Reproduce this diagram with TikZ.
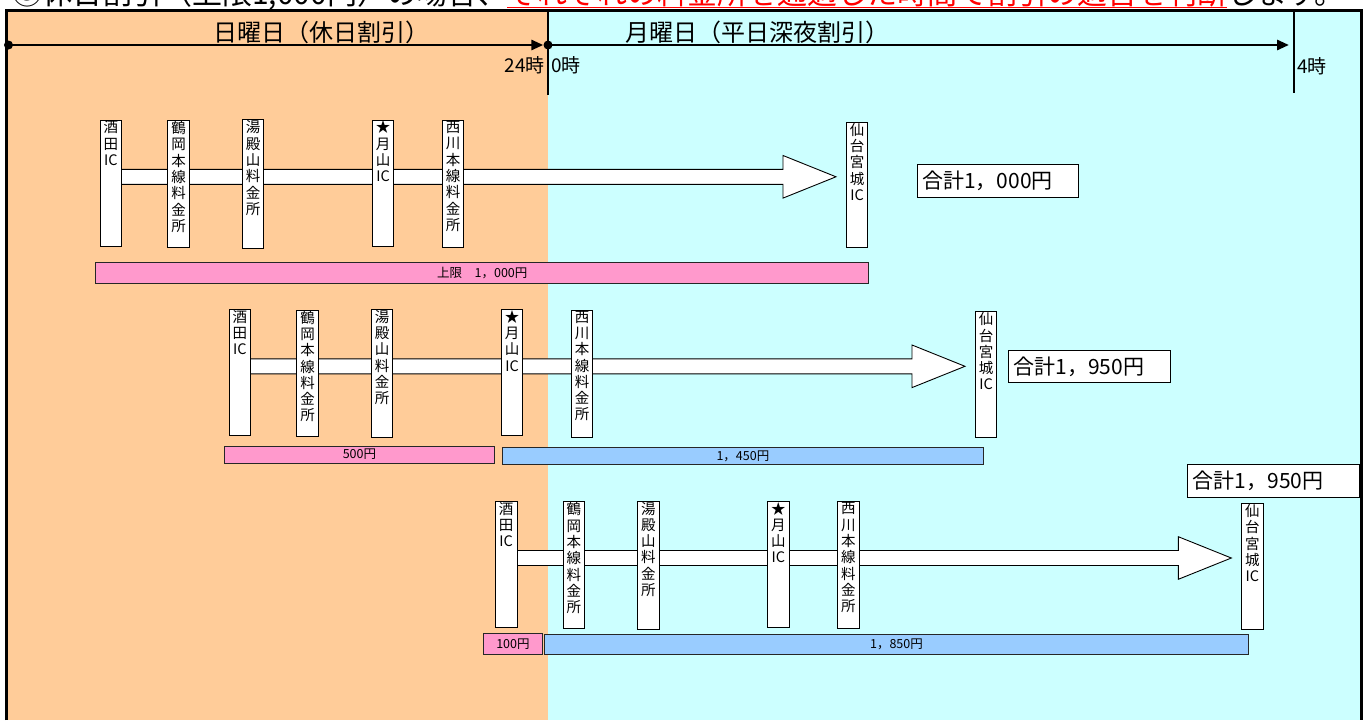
\documentclass[tikz,border=0pt]{standalone}
\usepackage{fontspec}
\newfontfamily\jp{Noto Sans CJK JP}
\usetikzlibrary{arrows.meta}
\definecolor{sunbg}{HTML}{FFCC99}
\definecolor{monbg}{HTML}{CCFFFF}
\definecolor{pinkbar}{HTML}{FF99CC}
\definecolor{bluebar}{HTML}{99CCFF}
\newcommand{\stlab}[2]{\parbox[c][#1pt][t]{21.7pt}{\centering\jp\fontsize{14.5}{16.3}\selectfont\vspace*{1pt}#2\par}}
\newcommand{\redul}[1]{\setbox0\hbox{#1}\rlap{\color{red}\rule[-3.6pt]{\wd0}{1.3pt}}\box0}
\newcommand{\stationrow}[3]{%
  \begin{scope}[shift={(#2,#3)}]
    \draw[road] (110,169.3) -- (783,169.3) -- (783,155.5) -- (836,176.8) -- (783,198.1) -- (783,184.3) -- (110,184.3) -- cycle;
    \node[stbox] (#1sakata) at (99.5,119.5) {\stlab{126}{酒\\田\\IC}};
    \node[stbox] (#1tsuruoka) at (167.3,120) {\stlab{126.5}{鶴\\岡\\本\\線\\料\\金\\所}};
    \node[stbox] (#1yudono) at (241.7,119.3) {\stlab{128.5}{湯\\殿\\山\\料\\金\\所}};
    \node[stbox] (#1gassan) at (371.7,119.5) {\stlab{126.2}{★\\月\\山\\IC}};
    \node[stbox] (#1nishikawa) at (441.7,120) {\stlab{127}{西\\川\\本\\線\\料\\金\\所}};
    \node[stbox] (#1sendai) at (845.7,121.7) {\stlab{125.6}{仙\\台\\宮\\城\\IC}};
  \end{scope}}
\begin{document}
\begin{tikzpicture}[x=1pt,y=-1pt,
  stbox/.style={draw=black, fill=white, line width=0.9pt, inner sep=0pt, anchor=north west},
  road/.style={draw=black, fill=white, line width=0.9pt, line join=miter},
  barbox/.style={draw=black!85, line width=0.9pt, inner sep=0pt, anchor=north west, font=\jp\fontsize{12.5}{13}\selectfont},
  totalbox/.style={draw=black, fill=white, line width=0.9pt, anchor=north west, inner xsep=5pt, inner ysep=0pt, align=left, font=\jp\fontsize{21}{21}\selectfont},
  dotnode/.style={circle, fill=black, inner sep=0pt, minimum size=9pt},
  tline/.style={line width=2.8pt, -{Triangle[length=12pt,width=10pt]}},
  hourlab/.style={inner sep=0pt, font=\jp\fontsize{19}{19}\selectfont},
  daylab/.style={inner sep=0pt, anchor=base, font=\jp\fontsize{24}{24}\selectfont}]
\useasboundingbox (0,0) rectangle (1370,720);
\clip (0,0) rectangle (1370,720);
\fill[white] (0,0) rectangle (1370,720);
% backgrounds
\fill[sunbg] (6,10.5) rectangle (548,720);
\fill[monbg] (548,10.5) rectangle (1361.5,720);
\draw[line width=3pt] (6,720) -- (6,10.5) -- (1361.5,10.5) -- (1361.5,720);
% title (cut off at top)
\node[anchor=base west, inner sep=0pt, font=\jp\fontsize{30}{30}\selectfont] (title) at (12,4.5)
  {③休日割引（上限1,000円）の場合、\redul{\textcolor{red}{それぞれの料金所を通過した時間で割引の適否を判断}}します。};
% timeline
\draw[line width=2.5pt] (548,10.5) -- (548,95);
\draw[line width=2pt] (1294,10.5) -- (1294,93);
\node[dotnode] (t0) at (8.5,45) {};
\node[dotnode] (t24) at (548,45) {};
\coordinate (t4) at (1289,45);
\draw[tline] (t0.center) -- (t24.west);
\draw[tline] (t24.center) -- (t4);
\node[daylab] (sun) at (321,41) {日曜日（休日割引）};
\node[daylab] (mon) at (757,41) {月曜日（平日深夜割引）};
\node[hourlab, anchor=base east] (h24) at (545,72) {24時};
\node[hourlab, anchor=base west] (h0) at (551,72) {0時};
\node[hourlab, anchor=base west] (h4) at (1297,73) {4時};
% rows
\stationrow{a}{0}{0}
\stationrow{b}{129}{189.5}
\stationrow{c}{395.3}{381.2}
% row 1 bars
\node[barbox, fill=pinkbar, minimum width=773pt, minimum height=21.6pt] (abar) at (95.3,261.7) {上限　1，000円};
\node[totalbox, text width=151.6pt, minimum height=33.3pt] (atotal) at (916.7,164) {合計1，000円};
% row 2 bars
\node[barbox, fill=pinkbar, minimum width=270pt, minimum height=17pt] (bbar1) at (224,445.7) {500円};
\node[barbox, fill=bluebar, minimum width=481.5pt, minimum height=17pt] (bbar2) at (501.7,447) {1，450円};
\node[totalbox, text width=151.6pt, minimum height=32pt] (btotal) at (1008,350) {合計1，950円};
% row 3 bars
\node[barbox, fill=pinkbar, minimum width=58.4pt, minimum height=20.7pt] (cbar1) at (483.3,633.3) {100円};
\node[barbox, fill=bluebar, minimum width=703.4pt, minimum height=20.2pt] (cbar2) at (544.3,633.8) {1，850円};
\node[totalbox, text width=161.7pt, minimum height=33.3pt] (ctotal) at (1187.3,464) {合計1，950円};
\end{tikzpicture}
\end{document}
